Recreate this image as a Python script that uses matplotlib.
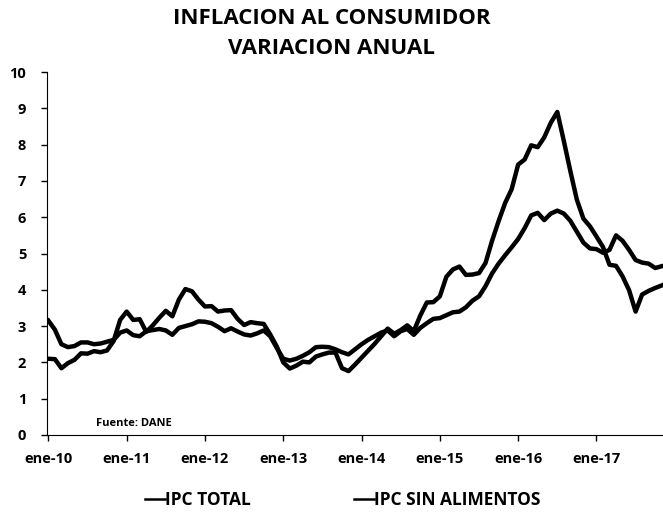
import numpy as np
import matplotlib
matplotlib.use("Agg")
import matplotlib.pyplot as plt

plt.rcParams['font.family'] = ['Open Sans', 'DejaVu Sans']
plt.rcParams['font.weight'] = 'bold'

# monthly annual variation, ene-2010 .. nov-2017
ipc_total = [
    2.10, 2.09, 1.84, 1.98, 2.07, 2.25, 2.24, 2.31, 2.28, 2.33, 2.59, 3.17,
    3.40, 3.17, 3.19, 2.84, 3.02, 3.23, 3.42, 3.27, 3.73, 4.02, 3.96, 3.73,
    3.54, 3.55, 3.40, 3.43, 3.44, 3.20, 3.03, 3.11, 3.08, 3.06, 2.77, 2.44,
    2.00, 1.83, 1.91, 2.02, 2.00, 2.16, 2.22, 2.27, 2.27, 1.84, 1.76, 1.94,
    2.13, 2.32, 2.51, 2.72, 2.93, 2.79, 2.89, 3.02, 2.86, 3.29, 3.65, 3.66,
    3.82, 4.36, 4.56, 4.64, 4.41, 4.42, 4.46, 4.74, 5.35, 5.89, 6.39, 6.77,
    7.45, 7.59, 7.98, 7.93, 8.20, 8.60, 8.90, 8.10, 7.27, 6.48, 5.96, 5.75,
    5.47, 5.18, 4.69, 4.66, 4.37, 3.99, 3.40, 3.87, 3.97, 4.05, 4.12,
]
ipc_sin_alimentos = [
    3.15, 2.90, 2.50, 2.42, 2.45, 2.55, 2.55, 2.50, 2.52, 2.57, 2.62, 2.82,
    2.88, 2.75, 2.72, 2.86, 2.89, 2.92, 2.88, 2.76, 2.95, 3.00, 3.05, 3.13,
    3.12, 3.08, 2.98, 2.86, 2.94, 2.85, 2.77, 2.74, 2.80, 2.88, 2.72, 2.40,
    2.10, 2.05, 2.10, 2.18, 2.28, 2.42, 2.43, 2.42, 2.36, 2.28, 2.22, 2.36,
    2.50, 2.62, 2.72, 2.82, 2.88, 2.72, 2.86, 2.92, 2.76, 2.95, 3.08, 3.20,
    3.22, 3.30, 3.38, 3.40, 3.52, 3.70, 3.82, 4.10, 4.45, 4.72, 4.95, 5.17,
    5.40, 5.70, 6.05, 6.12, 5.92, 6.10, 6.18, 6.10, 5.90, 5.60, 5.30, 5.14,
    5.12, 5.02, 5.10, 5.50, 5.35, 5.10, 4.82, 4.75, 4.72, 4.60, 4.65,
]
tick_labels = ['ene-10', 'ene-11', 'ene-12', 'ene-13', 'ene-14', 'ene-15', 'ene-16', 'ene-17']

months = np.arange(len(ipc_total))

fig = plt.figure(figsize=(6.63, 5.2), dpi=100)
ax = fig.add_axes([0.071, 0.1635, 0.929, 0.698])

ax.plot(months, ipc_total, c='k', lw=3.2, label='IPC TOTAL')
ax.plot(months, ipc_sin_alimentos, c='k', lw=3.2, label='IPC SIN ALIMENTOS')

ax.set_xlim(-0.2, 94.2)
ax.set_ylim(0, 10)
ax.set_yticks(range(0, 11))
ax.set_xticks(np.arange(0, 96, 12))
ax.set_xticklabels(tick_labels)
ax.tick_params(axis='both', labelsize=10.5, length=4, width=1, colors='k')
ax.tick_params(axis='x', pad=8)
ax.tick_params(axis='y', pad=11)
for lab in ax.get_xticklabels() + ax.get_yticklabels():
    lab.set_fontweight('bold')
ax.spines['top'].set_visible(False)
ax.spines['right'].set_visible(False)

ax.text(0.08, 0.025, 'Fuente: DANE', transform=ax.transAxes, fontsize=8, fontweight='bold')

fig.text(0.5, 0.965, 'INFLACION AL CONSUMIDOR', ha='center', va='center', fontsize=16, fontweight='bold')
fig.text(0.5, 0.907, 'VARIACION ANUAL', ha='center', va='center', fontsize=16, fontweight='bold')

fig.legend(loc='center', bbox_to_anchor=(0.517, 0.038), ncol=2, frameon=False,
           handlelength=1.2, handletextpad=0.0, columnspacing=5.9,
           prop={'weight': 'bold', 'size': 12.5})
for h in fig.legends[0].legend_handles:
    h.set_linewidth(1.8)

fig.savefig('out.png', dpi=100)
